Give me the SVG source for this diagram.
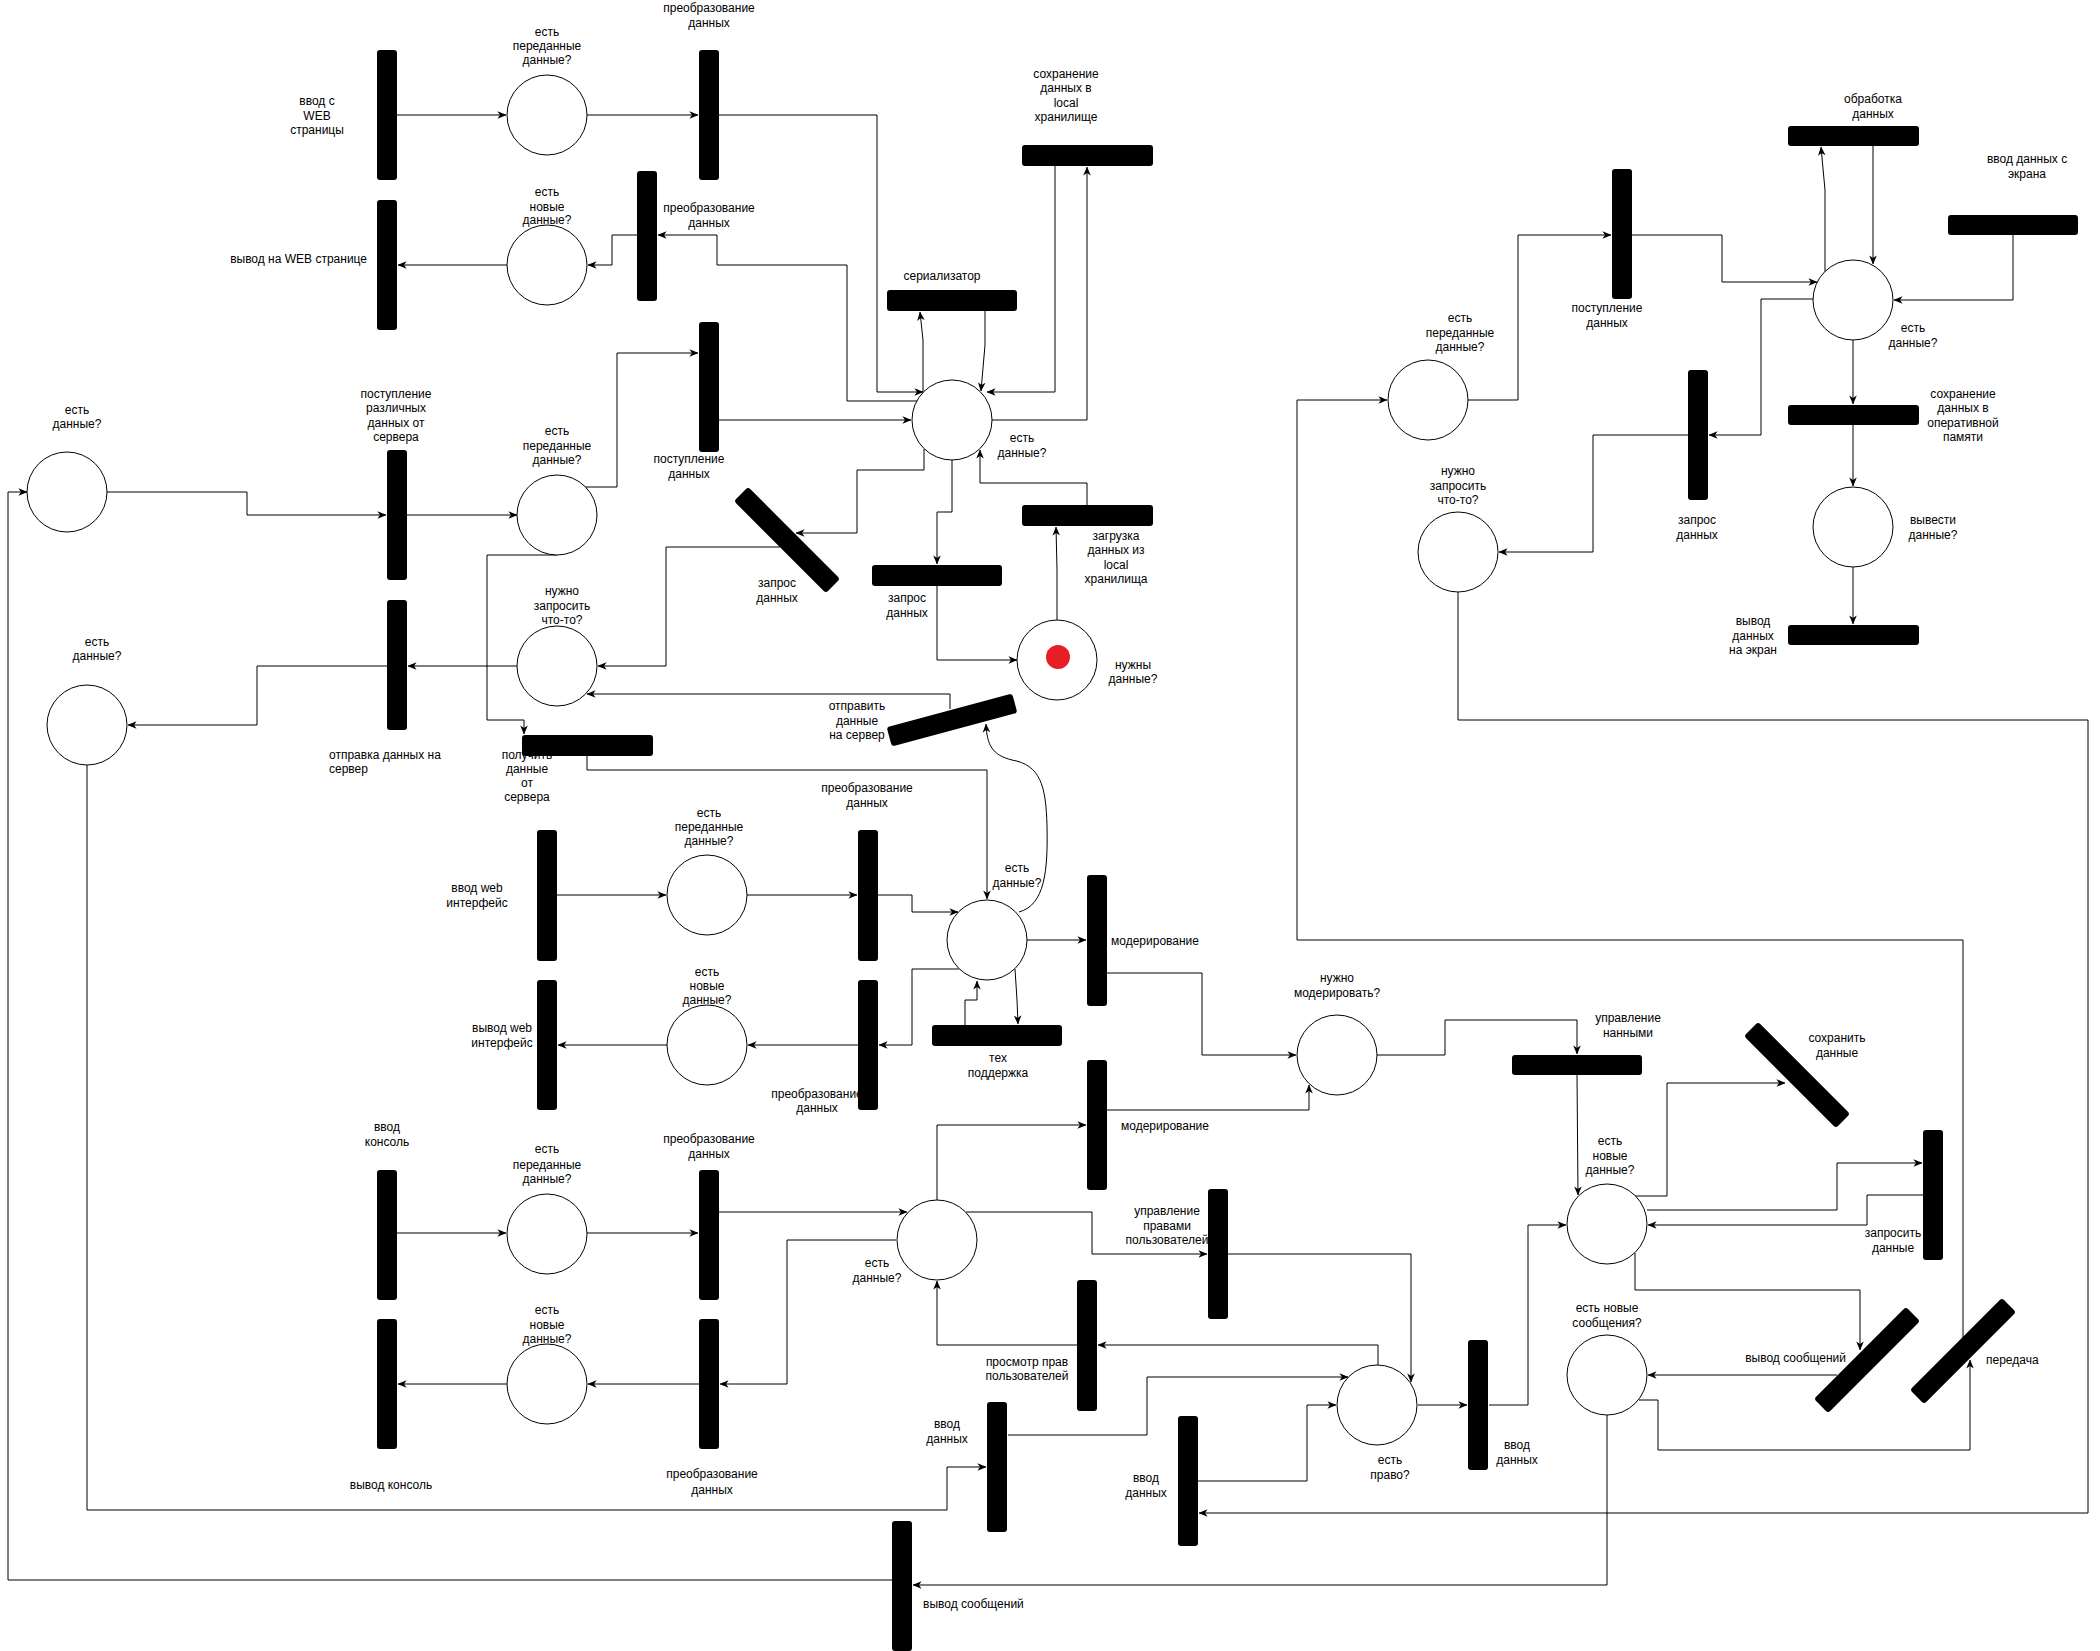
<svg xmlns="http://www.w3.org/2000/svg" width="2100" height="1651" viewBox="0 0 2100 1651">
<style>
text{font-family:"Liberation Sans",Arial,sans-serif;font-size:12px;fill:#000;text-anchor:middle}
.s{text-anchor:start}.e{text-anchor:end}
.bar{fill:#000}
.pl{fill:#fff;stroke:#000;stroke-width:1}
.c path{fill:none;stroke:#000;stroke-width:1;marker-end:url(#a)}
.c path.n{marker-end:none}
</style>
<defs>
<marker id="a" viewBox="0 0 10 10" refX="9.5" refY="5" markerWidth="9" markerHeight="9" markerUnits="userSpaceOnUse" orient="auto">
<path d="M0,0.8 L10,5 L0,9.2 L2.8,5 z" fill="#000"/>
</marker>
</defs>
<rect width="2100" height="1651" fill="#fff"/>
<g id="connectors" class="c">
<path d="M397,115 L506,115"/>
<path d="M587,115 L698,115"/>
<path d="M507,265 L398,265"/>
<path d="M637,235 L612,235 L612,265 L588,265"/>
<path d="M917,401 L847,401 L847,265 L717,265 L717,235 L658,235"/>
<path d="M719,115 L877,115 L877,392 L923,392"/>
<path d="M923,392 L923,340 L920,312"/>
<path d="M985,311 L985,345 L981,391"/>
<path d="M1055,166 L1055,392 L987,392"/>
<path d="M992,420 L1087,420 L1087,167"/>
<path d="M719,420 L911,420"/>
<path d="M585,487 L617,487 L617,353 L698,353"/>
<path d="M107,492 L247,492 L247,515 L386,515"/>
<path d="M407,515 L517,515"/>
<path d="M518,666 L408,666"/>
<path d="M387,666 L257,666 L257,725 L128,725"/>
<path d="M557,555 L487,555 L487,720 L524,720 L524,734"/>
<path d="M924,449 L924,470 L857,470 L857,533 L796,533"/>
<path d="M780,547 L666,547 L666,666 L598,666"/>
<path d="M952,460 L952,512 L937,512 L937,564"/>
<path d="M937,586 L937,660 L1017,660"/>
<path d="M1057,620 L1057,570 L1056,527"/>
<path d="M1087,505 L1087,483 L980,483 L980,450"/>
<path d="M950,709 L950,694 L587,694"/>
<path d="M587,756 L587,770 L987,770 L987,899"/>
<path d="M1019,912 C1045,905 1048,870 1047,826 C1046,785 1040,765 1012,760 C992,755 987,745 986,724"/>
<path d="M557,895 L666,895"/>
<path d="M747,895 L857,895"/>
<path d="M878,895 L912,895 L912,912 L958,912"/>
<path d="M959,969 L912,969 L912,1045 L879,1045"/>
<path d="M858,1045 L748,1045"/>
<path d="M667,1045 L558,1045"/>
<path d="M1027,940 L1086,940"/>
<path d="M1015,969 L1017,1000 L1018,1024"/>
<path d="M965,1025 L965,1000 L977,1000 L977,981"/>
<path d="M1107,973 L1202,973 L1202,1055 L1296,1055"/>
<path d="M1107,1110 L1309,1110 L1309,1085"/>
<path d="M397,1233 L506,1233"/>
<path d="M587,1233 L698,1233"/>
<path d="M699,1384 L588,1384"/>
<path d="M507,1384 L398,1384"/>
<path d="M719,1212 L907,1212"/>
<path d="M896,1240 L787,1240 L787,1384 L720,1384"/>
<path d="M937,1200 L937,1125 L1086,1125"/>
<path d="M966,1212 L1092,1212 L1092,1254 L1207,1254"/>
<path d="M1228,1254 L1411,1254 L1411,1382"/>
<path d="M1378,1365 L1378,1345 L1098,1345"/>
<path d="M1077,1345 L937,1345 L937,1281"/>
<path d="M87,765 L87,1510 L947,1510 L947,1467 L986,1467"/>
<path d="M1008,1435 L1147,1435 L1147,1377 L1348,1377"/>
<path d="M1198,1481 L1307,1481 L1307,1405 L1336,1405"/>
<path d="M1418,1405 L1467,1405"/>
<path d="M1489,1405 L1528,1405 L1528,1225 L1566,1225"/>
<path d="M892,1580 L8,1580 L8,492 L27,492"/>
<path d="M1607,1415 L1607,1585 L913,1585"/>
<path d="M1377,1055 L1445,1055 L1445,1020 L1577,1020 L1577,1054"/>
<path d="M1577,1075 L1578,1195"/>
<path d="M1634,1196 L1667,1196 L1667,1083 L1785,1083"/>
<path d="M1647,1210 L1837,1210 L1837,1163 L1922,1163"/>
<path d="M1923,1195 L1867,1195 L1867,1225 L1648,1225"/>
<path d="M1635,1253 L1635,1290 L1860,1290 L1860,1350"/>
<path d="M1837,1375 L1648,1375"/>
<path d="M1639,1400 L1658,1400 L1658,1450 L1970,1450 L1970,1360"/>
<path d="M1963,1340 L1963,940 L1297,940 L1297,400 L1387,400"/>
<path d="M1468,400 L1518,400 L1518,235 L1611,235"/>
<path d="M1632,235 L1722,235 L1722,282 L1817,282"/>
<path d="M1825,272 L1825,190 L1821,147"/>
<path d="M1873,146 L1873,264"/>
<path d="M2013,235 L2013,300 L1894,300"/>
<path d="M1814,299 L1761,299 L1761,435 L1709,435"/>
<path d="M1688,435 L1593,435 L1593,552 L1499,552"/>
<path d="M1853,340 L1853,404"/>
<path d="M1853,425 L1853,486"/>
<path d="M1853,567 L1853,624"/>
<path d="M1458,592 L1458,720 L2088,720 L2088,1513 L1199,1513"/>
</g>
<g id="t-vvod-web-page"><text x="317" y="105">ввод с<tspan x="317" y="120">WEB</tspan><tspan x="317" y="134">страницы</tspan></text><rect class="bar" x="377" y="50" width="20" height="130" rx="3"/></g>
<g id="p-est-peredannye-1"><text x="547" y="36">есть<tspan x="547" y="50">переданные</tspan><tspan x="547" y="64">данные?</tspan></text><circle class="pl" cx="547" cy="115" r="40"/></g>
<g id="t-preobr-1"><text x="709" y="12">преобразование<tspan x="709" y="27">данных</tspan></text><rect class="bar" x="699" y="50" width="20" height="130" rx="3"/></g>
<g id="t-vyvod-web-page"><text class="e" x="367" y="263">вывод на WEB странице</text><rect class="bar" x="377" y="200" width="20" height="130" rx="3"/></g>
<g id="p-est-novye-1"><text x="547" y="196">есть<tspan x="547" y="211">новые</tspan><tspan x="547" y="224">данные?</tspan></text><circle class="pl" cx="547" cy="265" r="40"/></g>
<g id="t-preobr-2"><text x="709" y="212">преобразование<tspan x="709" y="227">данных</tspan></text><rect class="bar" x="637" y="171" width="20" height="130" rx="3"/></g>
<g id="t-serializer"><text x="942" y="280">сериализатор</text><rect class="bar" x="887" y="290" width="130" height="21" rx="3"/></g>
<g id="t-save-local"><text x="1066" y="78">сохранение<tspan x="1066" y="92">данных в</tspan><tspan x="1066" y="107">local</tspan><tspan x="1066" y="121">хранилище</tspan></text><rect class="bar" x="1022" y="145" width="131" height="21" rx="3"/></g>
<g id="p-est-dannye-top"><text x="1022" y="442">есть<tspan x="1022" y="457">данные?</tspan></text><circle class="pl" cx="952" cy="420" r="40"/></g>
<g id="t-postuplenie-1"><text x="689" y="463">поступление<tspan x="689" y="478">данных</tspan></text><rect class="bar" x="699" y="322" width="20" height="130" rx="3"/></g>
<g id="t-zapros-diag"><text x="777" y="587">запрос<tspan x="777" y="602">данных</tspan></text><rect class="bar" x="-65" y="-10" width="130" height="20" rx="3" transform="translate(787 540) rotate(45)"/></g>
<g id="t-zapros-h"><text x="907" y="602">запрос<tspan x="907" y="617">данных</tspan></text><rect class="bar" x="872" y="565" width="130" height="21" rx="3"/></g>
<g id="t-zagruzka"><text x="1116" y="540">загрузка<tspan x="1116" y="554">данных из</tspan><tspan x="1116" y="569">local</tspan><tspan x="1116" y="583">хранилища</tspan></text><rect class="bar" x="1022" y="505" width="131" height="21" rx="3"/></g>
<g id="p-nuzhny-dannye"><text x="1133" y="669">нужны<tspan x="1133" y="683">данные?</tspan></text><circle class="pl" cx="1057" cy="660" r="40"/><circle cx="1058" cy="657" r="12" fill="#e81e25"/></g>
<g id="t-otpravit"><text x="857" y="710">отправить<tspan x="857" y="725">данные</tspan><tspan x="857" y="739">на сервер</tspan></text><rect class="bar" x="-65" y="-10" width="130" height="20" rx="3" transform="translate(952 720) rotate(-15)"/></g>
<g id="p-est-dannye-l1"><text x="77" y="414">есть<tspan x="77" y="428">данные?</tspan></text><circle class="pl" cx="67" cy="492" r="40"/></g>
<g id="t-postuplenie-server"><text x="396" y="398">поступление<tspan x="396" y="412">различных</tspan><tspan x="396" y="427">данных от</tspan><tspan x="396" y="441">сервера</tspan></text><rect class="bar" x="387" y="450" width="20" height="130" rx="3"/></g>
<g id="p-est-peredannye-2"><text x="557" y="435">есть<tspan x="557" y="450">переданные</tspan><tspan x="557" y="464">данные?</tspan></text><circle class="pl" cx="557" cy="515" r="40"/></g>
<g id="p-nuzhno-zaprosit-1"><text x="562" y="595">нужно<tspan x="562" y="610">запросить</tspan><tspan x="562" y="624">что-то?</tspan></text><circle class="pl" cx="557" cy="666" r="40"/></g>
<g id="p-est-dannye-l2"><text x="97" y="646">есть<tspan x="97" y="660">данные?</tspan></text><circle class="pl" cx="87" cy="725" r="40"/></g>
<g id="t-otpravka"><text class="s" x="329" y="759">отправка данных на<tspan x="329" y="773">сервер</tspan></text><rect class="bar" x="387" y="600" width="20" height="130" rx="3"/></g>
<g id="t-poluchit"><text x="527" y="759">получить<tspan x="527" y="773">данные</tspan><tspan x="527" y="787">от</tspan><tspan x="527" y="801">сервера</tspan></text><rect class="bar" x="522" y="735" width="131" height="21" rx="3"/></g>
<g id="t-vvod-web"><text x="477" y="892">ввод web<tspan x="477" y="907">интерфейс</tspan></text><rect class="bar" x="537" y="830" width="20" height="131" rx="3"/></g>
<g id="p-web-peredannye"><text x="709" y="817">есть<tspan x="709" y="831">переданные</tspan><tspan x="709" y="845">данные?</tspan></text><circle class="pl" cx="707" cy="895" r="40"/></g>
<g id="t-preobr-web-1"><text x="867" y="792">преобразование<tspan x="867" y="807">данных</tspan></text><rect class="bar" x="858" y="830" width="20" height="131" rx="3"/></g>
<g id="p-est-dannye-mid"><text x="1017" y="872">есть<tspan x="1017" y="887">данные?</tspan></text><circle class="pl" cx="987" cy="940" r="40"/></g>
<g id="t-moder-1"><text class="s" x="1111" y="945">модерирование</text><rect class="bar" x="1087" y="875" width="20" height="131" rx="3"/></g>
<g id="t-vyvod-web"><text x="502" y="1032">вывод web<tspan x="502" y="1047">интерфейс</tspan></text><rect class="bar" x="537" y="980" width="20" height="130" rx="3"/></g>
<g id="p-web-novye"><text x="707" y="976">есть<tspan x="707" y="990">новые</tspan><tspan x="707" y="1004">данные?</tspan></text><circle class="pl" cx="707" cy="1045" r="40"/></g>
<g id="t-preobr-web-2"><text x="817" y="1098">преобразование<tspan x="817" y="1112">данных</tspan></text><rect class="bar" x="858" y="980" width="20" height="130" rx="3"/></g>
<g id="t-teh"><text x="998" y="1062">тех<tspan x="998" y="1077">поддержка</tspan></text><rect class="bar" x="932" y="1025" width="130" height="21" rx="3"/></g>
<g id="p-nuzhno-moder"><text x="1337" y="982">нужно<tspan x="1337" y="997">модерировать?</tspan></text><circle class="pl" cx="1337" cy="1055" r="40"/></g>
<g id="t-moder-2"><text class="s" x="1121" y="1130">модерирование</text><rect class="bar" x="1087" y="1060" width="20" height="130" rx="3"/></g>
<g id="t-vvod-console"><text x="387" y="1131">ввод<tspan x="387" y="1146">консоль</tspan></text><rect class="bar" x="377" y="1170" width="20" height="130" rx="3"/></g>
<g id="p-console-peredannye"><text x="547" y="1153">есть<tspan x="547" y="1169">переданные</tspan><tspan x="547" y="1183">данные?</tspan></text><circle class="pl" cx="547" cy="1234" r="40"/></g>
<g id="t-preobr-console-1"><text x="709" y="1143">преобразование<tspan x="709" y="1158">данных</tspan></text><rect class="bar" x="699" y="1170" width="20" height="130" rx="3"/></g>
<g id="p-console-dannye"><text x="877" y="1267">есть<tspan x="877" y="1282">данные?</tspan></text><circle class="pl" cx="937" cy="1240" r="40"/></g>
<g id="t-upravlenie-pravami"><text x="1167" y="1215">управление<tspan x="1167" y="1230">правами</tspan><tspan x="1167" y="1244">пользователей</tspan></text><rect class="bar" x="1208" y="1189" width="20" height="130" rx="3"/></g>
<g id="t-vyvod-console"><text x="391" y="1489">вывод консоль</text><rect class="bar" x="377" y="1319" width="20" height="130" rx="3"/></g>
<g id="p-console-novye"><text x="547" y="1314">есть<tspan x="547" y="1329">новые</tspan><tspan x="547" y="1343">данные?</tspan></text><circle class="pl" cx="547" cy="1384" r="40"/></g>
<g id="t-preobr-console-2"><text x="712" y="1478">преобразование<tspan x="712" y="1494">данных</tspan></text><rect class="bar" x="699" y="1319" width="20" height="130" rx="3"/></g>
<g id="t-prosmotr"><text x="1027" y="1366">просмотр прав<tspan x="1027" y="1380">пользователей</tspan></text><rect class="bar" x="1077" y="1280" width="20" height="131" rx="3"/></g>
<g id="t-vvod-dannyh-1"><text x="947" y="1428">ввод<tspan x="947" y="1443">данных</tspan></text><rect class="bar" x="987" y="1402" width="20" height="130" rx="3"/></g>
<g id="t-vvod-dannyh-2"><text x="1146" y="1482">ввод<tspan x="1146" y="1497">данных</tspan></text><rect class="bar" x="1178" y="1416" width="20" height="130" rx="3"/></g>
<g id="p-est-pravo"><text x="1390" y="1464">есть<tspan x="1390" y="1479">право?</tspan></text><circle class="pl" cx="1377" cy="1405" r="40"/></g>
<g id="t-vvod-dannyh-3"><text x="1517" y="1449">ввод<tspan x="1517" y="1464">данных</tspan></text><rect class="bar" x="1468" y="1340" width="20" height="130" rx="3"/></g>
<g id="t-vyvod-soobsh"><text class="s" x="923" y="1608">вывод сообщений</text><rect class="bar" x="892" y="1521" width="20" height="130" rx="3"/></g>
<g id="t-upravlenie-dannymi"><text x="1628" y="1022">управление<tspan x="1628" y="1037">нанными</tspan></text><rect class="bar" x="1512" y="1055" width="130" height="20" rx="3"/></g>
<g id="p-est-novye-r"><text x="1610" y="1145">есть<tspan x="1610" y="1160">новые</tspan><tspan x="1610" y="1174">данные?</tspan></text><circle class="pl" cx="1607" cy="1224" r="40"/></g>
<g id="t-sohranit"><text x="1837" y="1042">сохранить<tspan x="1837" y="1057">данные</tspan></text><rect class="bar" x="-65" y="-10" width="130" height="20" rx="3" transform="translate(1797 1075) rotate(45)"/></g>
<g id="t-zaprosit"><text x="1893" y="1237">запросить<tspan x="1893" y="1252">данные</tspan></text><rect class="bar" x="1923" y="1130" width="20" height="130" rx="3"/></g>
<g id="p-novye-soobsh"><text x="1607" y="1312">есть новые<tspan x="1607" y="1327">сообщения?</tspan></text><circle class="pl" cx="1607" cy="1375" r="40"/></g>
<g id="t-vyvod-soobsh-diag"><text class="e" x="1846" y="1362">вывод сообщений</text><rect class="bar" x="-65" y="-10" width="130" height="20" rx="3" transform="translate(1867 1360) rotate(-45)"/></g>
<g id="t-peredacha"><text class="s" x="1986" y="1364">передача</text><rect class="bar" x="-65" y="-10" width="130" height="20" rx="3" transform="translate(1963 1351) rotate(-45)"/></g>
<g id="p-r-peredannye"><text x="1460" y="322">есть<tspan x="1460" y="337">переданные</tspan><tspan x="1460" y="351">данные?</tspan></text><circle class="pl" cx="1428" cy="400" r="40"/></g>
<g id="t-postuplenie-r"><text x="1607" y="312">поступление<tspan x="1607" y="327">данных</tspan></text><rect class="bar" x="1612" y="169" width="20" height="130" rx="3"/></g>
<g id="t-obrabotka"><text x="1873" y="103">обработка<tspan x="1873" y="118">данных</tspan></text><rect class="bar" x="1788" y="126" width="131" height="20" rx="3"/></g>
<g id="t-vvod-ekran"><text x="2027" y="163">ввод данных с<tspan x="2027" y="178">экрана</tspan></text><rect class="bar" x="1948" y="215" width="130" height="20" rx="3"/></g>
<g id="p-r-est-dannye"><text x="1913" y="332">есть<tspan x="1913" y="347">данные?</tspan></text><circle class="pl" cx="1853" cy="300" r="40"/></g>
<g id="t-sohr-oper"><text x="1963" y="398">сохранение<tspan x="1963" y="412">данных в</tspan><tspan x="1963" y="427">оперативной</tspan><tspan x="1963" y="441">памяти</tspan></text><rect class="bar" x="1788" y="405" width="131" height="20" rx="3"/></g>
<g id="t-zapros-r"><text x="1697" y="524">запрос<tspan x="1697" y="539">данных</tspan></text><rect class="bar" x="1688" y="370" width="20" height="130" rx="3"/></g>
<g id="p-r-nuzhno"><text x="1458" y="475">нужно<tspan x="1458" y="490">запросить</tspan><tspan x="1458" y="504">что-то?</tspan></text><circle class="pl" cx="1458" cy="552" r="40"/></g>
<g id="p-vyvesti"><text x="1933" y="524">вывести<tspan x="1933" y="539">данные?</tspan></text><circle class="pl" cx="1853" cy="527" r="40"/></g>
<g id="t-vyvod-ekran"><text x="1753" y="625">вывод<tspan x="1753" y="640">данных</tspan><tspan x="1753" y="654">на экран</tspan></text><rect class="bar" x="1788" y="625" width="131" height="20" rx="3"/></g>
</svg>
